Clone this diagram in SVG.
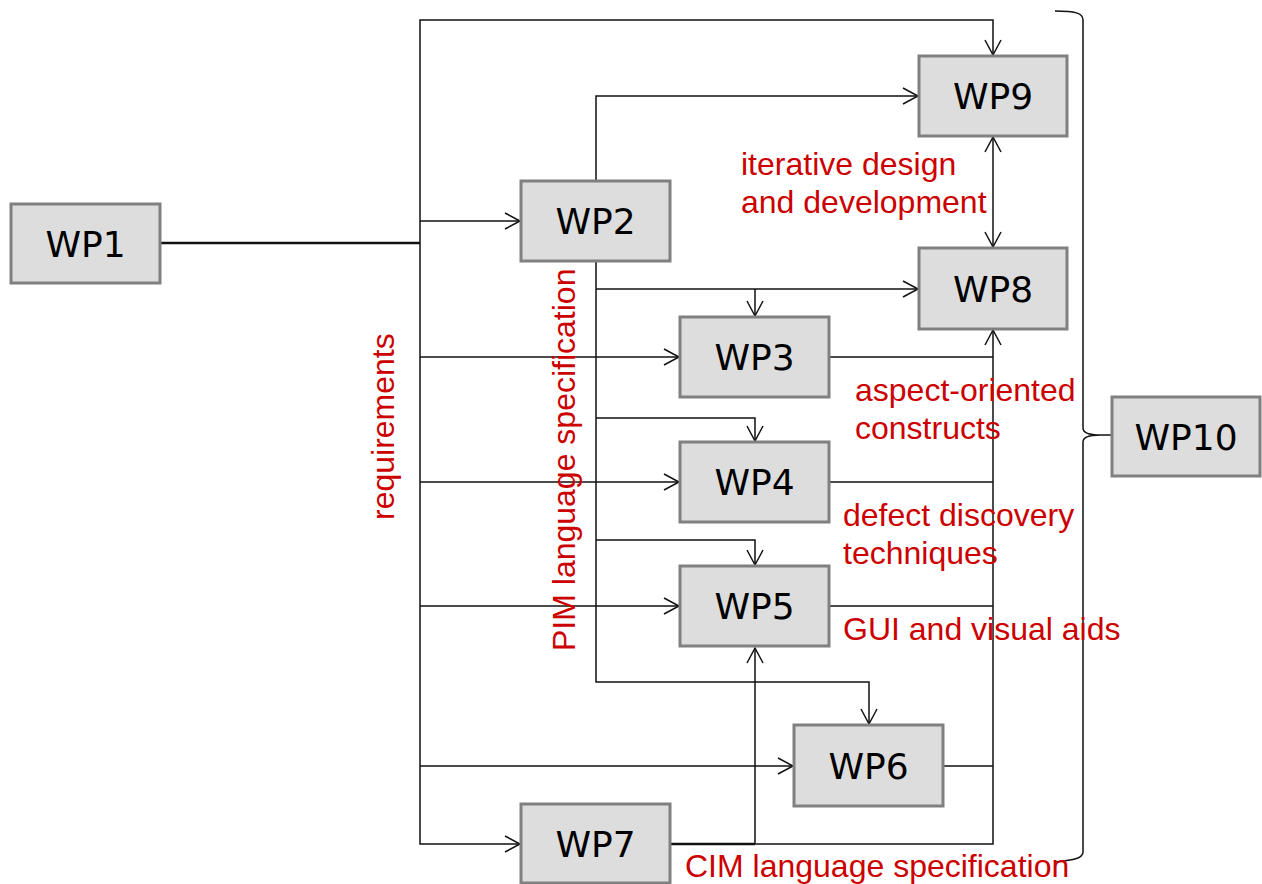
<svg xmlns="http://www.w3.org/2000/svg" width="1262" height="884" viewBox="0 0 1262 884">
<style>
.box{fill:#dddddd;stroke:#808080;stroke-width:3}
.nt{font-family:"DejaVu Sans",Verdana,sans-serif;font-size:36px;fill:#000;text-anchor:middle}
.lb{font-family:"Liberation Sans",Arial,sans-serif;font-size:32px;fill:#cc0000}
.c{fill:none;stroke:#111;stroke-width:1.5}
</style>
<defs>
<marker id="ah" viewBox="-16 -10 18 20" refX="0" refY="0" markerWidth="18" markerHeight="20" markerUnits="userSpaceOnUse" orient="auto-start-reverse">
<path d="M-15,-8 L0,0 L-15,8" fill="none" stroke="#111" stroke-width="1.5"/>
</marker>
</defs>
<rect width="1262" height="884" fill="#fff"/>
<g id="connectors">
<path class="c" d="M160,243 H420" style="stroke-width:2.5"/>
<path class="c" d="M420,243 V20 H993 V55" marker-end="url(#ah)"/>
<path class="c" d="M420,243 V844 H520" marker-end="url(#ah)"/>
<path class="c" d="M420,221 H520" marker-end="url(#ah)"/>
<path class="c" d="M420,357 H679" marker-end="url(#ah)"/>
<path class="c" d="M420,482 H679" marker-end="url(#ah)"/>
<path class="c" d="M420,606 H679" marker-end="url(#ah)"/>
<path class="c" d="M420,766 H793" marker-end="url(#ah)"/>
<path class="c" d="M596,181 V96 H918" marker-end="url(#ah)"/>
<path class="c" d="M596,261 V682 H869 V724" marker-end="url(#ah)"/>
<path class="c" d="M596,289 H918" marker-end="url(#ah)"/>
<path class="c" d="M755,289 V316" marker-end="url(#ah)"/>
<path class="c" d="M596,418 H755 V441" marker-end="url(#ah)"/>
<path class="c" d="M596,540 H755 V565" marker-end="url(#ah)"/>
<path class="c" d="M993,137 V247" marker-start="url(#ah)" marker-end="url(#ah)"/>
<path class="c" d="M829,357 H993 M829,482 H993 M829,606 H993 M943,766 H993"/>
<path class="c" d="M670,844 H993 V330" marker-end="url(#ah)"/>
<path class="c" d="M670,844 H755" style="stroke-width:2.5"/>
<path class="c" d="M755,844 V648" marker-end="url(#ah)"/>
<path class="c" d="M1055,11 C1075,11 1083,13 1083,20 V428 C1083,433 1090,435 1100,435 H1112 M1100,435 C1090,435 1083,437 1083,442 V852 C1083,858 1075,860 1055,862"/>
</g>
<g id="WP1"><rect class="box" x="11" y="204" width="149" height="79"/><text class="nt" x="85.5" y="257">WP1</text></g>
<g id="WP2"><rect class="box" x="521" y="181" width="149" height="80"/><text class="nt" x="595.5" y="234">WP2</text></g>
<g id="WP3"><rect class="box" x="680" y="317" width="149" height="80"/><text class="nt" x="754.5" y="370">WP3</text></g>
<g id="WP4"><rect class="box" x="680" y="442" width="149" height="80"/><text class="nt" x="754.5" y="495">WP4</text></g>
<g id="WP5"><rect class="box" x="680" y="566" width="149" height="80"/><text class="nt" x="754.5" y="619">WP5</text></g>
<g id="WP6"><rect class="box" x="794" y="725" width="149" height="81"/><text class="nt" x="868.5" y="779">WP6</text></g>
<g id="WP7"><rect class="box" x="521" y="804" width="149" height="79"/><text class="nt" x="595.5" y="857">WP7</text></g>
<g id="WP8"><rect class="box" x="919" y="248" width="148" height="81"/><text class="nt" x="993" y="302">WP8</text></g>
<g id="WP9"><rect class="box" x="919" y="56" width="148" height="80"/><text class="nt" x="993" y="109">WP9</text></g>
<g id="WP10"><rect class="box" x="1112" y="397" width="148" height="79"/><text class="nt" x="1186" y="450">WP10</text></g>
<g id="labels">
<text class="lb" transform="translate(394,520) rotate(-90)">requirements</text>
<text class="lb" transform="translate(575,651) rotate(-90)">PIM language specification</text>
<text class="lb" x="741" y="175">iterative design</text>
<text class="lb" x="741" y="213">and development</text>
<text class="lb" x="855" y="401">aspect-oriented</text>
<text class="lb" x="855" y="439">constructs</text>
<text class="lb" x="843" y="526">defect discovery</text>
<text class="lb" x="843" y="564">techniques</text>
<text class="lb" x="843" y="640">GUI and visual aids</text>
<text class="lb" x="685" y="877">CIM language specification</text>
</g>
</svg>
